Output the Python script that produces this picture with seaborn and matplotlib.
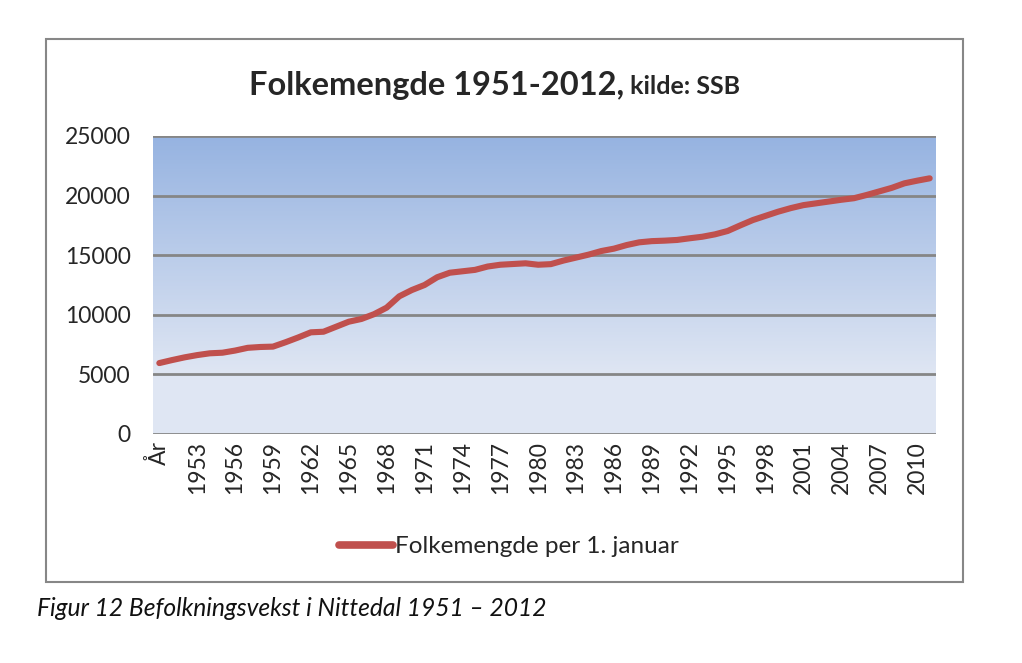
import numpy as np
import pandas as pd
import matplotlib
matplotlib.use("Agg")
import matplotlib.pyplot as plt
import seaborn as sns
from matplotlib.patches import Rectangle

# ---- data ----
categories = ["År"] + [str(y) for y in range(1951, 2012)]
population = [5950, 6200, 6430, 6620, 6770, 6820, 7000, 7230, 7300, 7330,
              7700, 8100, 8530, 8580, 9000, 9420, 9650, 10050, 10600, 11550,
              12080, 12500, 13150, 13530, 13650, 13770, 14050, 14200, 14260, 14320,
              14200, 14250, 14550, 14800, 15050, 15350, 15550, 15850, 16080, 16180,
              16220, 16280, 16420, 16550, 16750, 17030, 17500, 17950, 18300, 18650,
              18950, 19200, 19350, 19500, 19650, 19780, 20050, 20350, 20650, 21030,
              21250, 21450]
y_ticks = [0, 5000, 10000, 15000, 20000, 25000]
series_name = "Folkemengde per 1. januar"
title_main = "Folkemengde 1951-2012,"
title_sub = " kilde: SSB"
caption = "Figur 12 Befolkningsvekst i Nittedal 1951 – 2012"

df = pd.DataFrame({"idx": np.arange(len(categories)), "cat": categories,
                   "value": population, "series": series_name})

sns.set_theme(style="white")
plt.rcParams["font.family"] = ["Lato", "DejaVu Sans"]

fig = plt.figure(figsize=(10.22, 6.63), dpi=100)
ax = fig.add_axes([153/1022, 1-434/663, (936-153)/1022, (434-136)/663])

# gradient background
top = np.array([0.588, 0.702, 0.882])
bot = np.array([0.875, 0.902, 0.953])
t = np.linspace(1, 0, 300)[:, None]
w = np.clip((t - 0.2) / 0.8, 0, 1)
grad = bot + (top - bot) * w[..., None]
grad = np.repeat(grad, 2, axis=1)
ax.imshow(grad, extent=[0, 1, 0, 1], transform=ax.transAxes, aspect="auto", zorder=0)

sns.lineplot(data=df, x="idx", y="value", hue="series", palette=["#C0504D"],
             linewidth=4.4, ax=ax, zorder=3, solid_capstyle="round")

ax.set_xlim(-0.5, len(categories) - 0.5)
ax.set_ylim(0, 25000)
ax.set_yticks(y_ticks)
ax.set_yticklabels([str(v) for v in y_ticks], fontsize=16.5)
for v in y_ticks:
    ax.axhline(v, color="#868686", linewidth=2, zorder=2)
ticks = list(range(0, len(categories), 3))
ax.set_xticks(ticks)
ax.set_xticklabels([categories[i] for i in ticks], rotation=90, fontsize=16.5)
ax.tick_params(axis="x", length=0, pad=5)
ax.tick_params(axis="y", length=0, pad=16)
for s in ax.spines.values():
    s.set_visible(False)
ax.set_xlabel("")
ax.set_ylabel("")
ax.grid(False)

leg = ax.legend(loc="upper center", bbox_to_anchor=(0.455, -0.27), frameon=False,
                fontsize=17.5, handlelength=2.2, handletextpad=0.1)
for line in leg.get_lines():
    line.set_linewidth(5.5)

# title
t1 = fig.text(249/1022, 1-85/663, title_main, fontsize=23.5, fontweight="bold",
              va="center", ha="left")
fig.canvas.draw()
bb = t1.get_window_extent()
fig.text(bb.x1 / fig.bbox.width, 1-87/663, title_sub, fontsize=18, fontweight="bold",
         va="center", ha="left")

# chart frame
fig.patches.append(Rectangle((46/1022, 1-582/663), (963-46)/1022, (582-39)/663,
                             transform=fig.transFigure, fill=False,
                             edgecolor="#878787", linewidth=1.5))

fig.text(37/1022, 1-608/663, caption, fontsize=17.7, style="italic", va="center",
         ha="left", color="#111111")

fig.savefig("out.png", dpi=100)
